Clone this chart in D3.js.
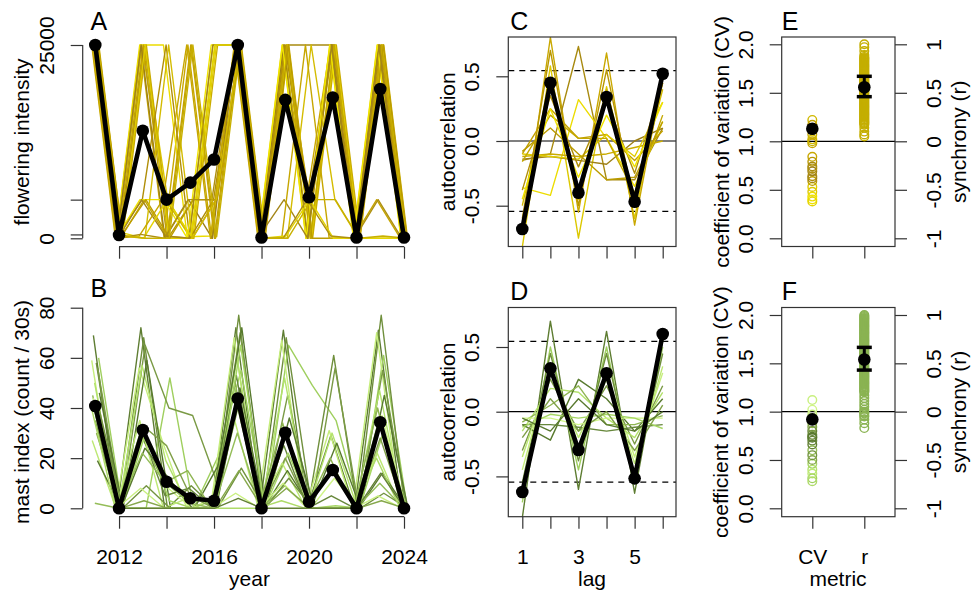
<!DOCTYPE html>
<html><head><meta charset="utf-8">
<script src="https://cdn.jsdelivr.net/npm/d3@7"></script>
<style>body{margin:0;background:#fff}svg{display:block}</style>
</head><body><svg id="c" width="972" height="593"></svg>
<script>
// ---------------- DATA ----------------
const years = [2011,2012,2013,2014,2015,2016,2017,2018,2019,2020,2021,2022,2023,2024];
const V = 25000, M = 5000;
// flowering intensity, one row per year, one column per tree (20 trees)
const flowerByYear = [
 [V,V,V,V,V,V,V,V,V,V,V,V,V,V,V,V,V,V,V,V],
 [0,500,300,0,800,0,500,0,300,0,600,0,0,500,0,300,0,800,0,400],
 [V,V,V,V,V,V,V,V,V,V,M,M,M,M,M,0,300,0,500,0],
 [M,0,300,M,0,V,0,200,0,0,V,0,M,0,300,V,M,M,0,0],
 [0,V,M,300,0,200,V,0,M,0,0,V,0,M,0,0,V,300,M,V],
 [V,0,M,V,M,300,0,V,0,V,M,0,V,M,V,M,0,V,M,200],
 [V,V,V,V,V,V,V,V,V,V,V,V,V,V,V,V,V,V,V,V],
 [0,0,200,0,0,0,300,0,0,0,0,0,0,0,500,0,0,0,0,0],
 [V,V,V,V,V,V,V,V,V,V,V,V,V,V,M,0,0,300,0,0],
 [0,M,0,0,V,0,M,0,0,200,M,0,0,0,0,V,V,M,M,M],
 [V,V,V,V,V,V,V,V,V,V,V,V,V,0,V,M,0,0,300,M],
 [0,0,0,0,0,0,200,0,0,0,0,0,0,0,0,0,0,0,0,0],
 [V,V,V,V,V,V,V,V,V,V,V,V,V,V,V,0,M,0,M,300],
 [0,0,0,0,0,0,0,0,0,0,0,0,0,0,0,0,0,0,0,0]
];
// survey date of each tree within the year (offset, in years)
const flowerDateOffset = [0.05,-0.10,0.12,-0.04,0.08,-0.13,0.02,0.15,-0.07,0.10,-0.02,0.06,-0.12,0.13,-0.05,0.09,-0.15,0.03,-0.09,0.11];
const flowerMean = [25000,430,13900,5000,7200,10200,25000,100,17900,5300,18200,100,19300,100];
const flowerTicks = [0,500,5000,25000];
const flowerTickLabels = ["0","","","25000"];

// mast index, one row per year, one column per site (20 sites)
const mastByYear = [
 [69,60,58,59,56,50,46,45,30,40,38,35,27,19,2,40,44,30,40,42],
 [0,0,0,0,0,0,0,0,0,0,0,0,0,0,0,0,0,0,0,0],
 [72,0,68,56,65,57,59,30,30,30,30,33,35,24,22,9,8,3,0,0],
 [0,52,0,26,40,19,0,10,8,5,3,25,0,12,10,0,0,0,0,0],
 [0,0,9,0,37,0,0,15,0,8,0,5,4,0,2,0,0,0,0,0],
 [0,20,0,0,11,0,17,0,5,0,4,0,3,0,0,0,0,0,0,0],
 [72,55,77,68,70,60,72,50,45,53,65,40,35,48,30,16,6,15,0,4],
 [0,0,0,2,0,0,0,0,0,0,0,0,0,0,0,0,0,0,0,0],
 [71,65,68,67,45,52,36,34,30,25,22,20,18,15,9,12,10,8,3,0],
 [0,49,5,0,0,0,2,0,0,0,0,0,0,0,0,0,0,0,0,0],
 [29,35,61,31,56,30,26,20,12,5,1,0,0,0,0,0,0,0,0,0],
 [0,0,0,0,0,2,0,0,0,0,0,0,0,0,0,0,0,0,0,0],
 [71,61,77,70,55,47,45,40,37,35,30,28,22,14,10,6,5,3,20,14],
 [0,0,0,0,0,0,0,0,0,0,0,0,0,0,0,0,0,0,0,0]
];
const mastDateOffset = [-0.08,0.14,0.04,-0.15,0.10,-0.03,0.17,-0.11,0.07,-0.06,0.12,0.00,-0.13,0.09,-0.02,0.15,-0.09,0.05,-0.16,0.02];
const mastMean = [40.8,0,31.2,10.6,4.0,3.0,43.8,0,30.1,2.6,15.3,0,34.3,0];
const mastTicks = [0,20,40,60,80];
const yearTicks = [2012,2014,2016,2018,2020,2022,2024];
const yearLabels = ["2012","","2016","","2020","","2024"];

const lags = [1,2,3,4,5,6];
const lagLabels = ["1","","3","","5",""];
const acfFlower = [
 [-0.82,0.58,-0.75,0.42,-0.60,0.55],
 [-0.70,0.80,-0.55,0.68,-0.65,0.50],
 [-0.60,0.70,-0.50,0.55,-0.50,0.45],
 [-0.50,0.47,-0.45,0.40,-0.45,0.40],
 [-0.15,-0.10,0.73,-0.30,-0.30,0.10],
 [-0.36,-0.42,0.32,0.02,-0.35,0.15],
 [-0.10,0.25,0.02,0.05,-0.15,0.08],
 [-0.12,-0.10,-0.12,-0.10,-0.05,0.00],
 [-0.14,-0.12,-0.15,-0.18,0.00,0.10],
 [-0.10,-0.12,-0.14,0.05,-0.12,0.30],
 [-0.38,0.35,-0.20,0.30,-0.25,0.45],
 [-0.16,0.20,0.02,0.02,-0.40,0.20],
 [-0.45,0.25,-0.28,0.20,-0.20,0.30],
 [-0.08,0.10,-0.10,-0.30,-0.28,0.15]
];
const acfFlowerMean = [-0.68,0.45,-0.40,0.34,-0.47,0.52];
const acfMast = [
 [-0.82,0.70,-0.60,0.62,-0.63,0.55],
 [-0.70,0.50,-0.45,0.50,-0.55,0.50],
 [-0.55,0.45,-0.38,0.45,-0.50,0.45],
 [-0.45,0.35,-0.30,0.30,-0.35,0.30],
 [-0.30,0.25,-0.15,0.20,-0.25,0.20],
 [-0.15,0.18,0.15,-0.05,-0.20,0.15],
 [-0.10,-0.22,0.25,0.10,-0.15,0.10],
 [-0.08,0.05,0.20,-0.10,-0.10,-0.03],
 [-0.05,-0.05,-0.10,-0.05,-0.05,-0.05],
 [-0.10,-0.10,-0.12,-0.15,-0.12,-0.10],
 [-0.12,-0.02,-0.05,-0.02,-0.05,-0.13],
 [-0.20,0.10,-0.15,0.00,-0.30,0.05],
 [-0.35,0.30,-0.20,0.25,-0.40,0.35],
 [-0.05,-0.15,0.10,-0.10,-0.15,0.00]
];
const acfMastMean = [-0.62,0.335,-0.296,0.297,-0.515,0.60];
const acfTicks = [-0.5,0,0.5];
const acfTickLabels = ["-0.5","0.0","0.5"];
const acfCrit = 0.5436;

const metricCats = ["CV","r"];
const cvTicks = [0,0.5,1,1.5,2];
const cvTickLabels = ["0.0","0.5","1.0","1.5","2.0"];
const rTicks = [-1,-0.5,0,0.5,1];
const rTickLabels = ["-1","-0.5","0","0.5","1"];
const cvFlower = [0.48,0.84,0.79,1.22,0.74,0.43,1.17,1.12,0.69,0.53,0.64,1.07,0.40,0.59,0.62,1.02,0.98,0.38,0.72,1.00];
const cvFlowerMean = 1.13;
const rFlower = [1.00,0.97,0.93,0.89,0.87,0.86,0.85,0.84,0.83,0.82,0.81,0.80,0.79,0.78,0.77,0.76,0.75,0.74,0.73,0.72,0.71,0.70,0.69,0.68,0.67,0.66,0.65,0.64,0.63,0.62,0.61,0.60,0.59,0.58,0.57,0.56,0.55,0.54,0.53,0.52,0.51,0.50,0.49,0.48,0.47,0.46,0.45,0.44,0.43,0.42,0.41,0.40,0.39,0.38,0.37,0.36,0.35,0.34,0.33,0.32,0.31,0.30,0.29,0.28,0.27,0.26,0.25,0.24,0.23,0.22,0.21,0.20,0.19,0.18,0.17,0.14,0.10,0.07,0.05];
const rFlowerMean = 0.557, rFlowerLo = 0.46, rFlowerHi = 0.67;
const cvMast = [0.80,0.31,0.76,0.97,0.92,0.40,0.73,0.88,1.02,0.70,0.46,0.84,0.36,0.74,0.60,0.55,1.12,0.50,0.28,0.66];
const cvMastMean = 0.92;
const rMast = [1.00,0.99,0.98,0.97,0.96,0.95,0.94,0.93,0.92,0.91,0.90,0.89,0.88,0.87,0.86,0.85,0.84,0.83,0.82,0.81,0.80,0.79,0.78,0.77,0.76,0.75,0.74,0.73,0.72,0.71,0.70,0.69,0.68,0.67,0.66,0.65,0.64,0.63,0.62,0.61,0.60,0.59,0.58,0.57,0.56,0.55,0.54,0.53,0.52,0.51,0.50,0.49,0.48,0.47,0.46,0.45,0.44,0.43,0.42,0.41,0.40,0.39,0.38,0.37,0.36,0.35,0.34,0.33,0.32,0.31,0.30,0.29,0.28,0.27,0.26,0.25,0.24,0.23,0.22,0.21,0.20,0.17,0.14,0.11,0.08,0.05,0.02,0.00,-0.01,-0.02,-0.04,-0.05,-0.08,-0.12,-0.17];
const rMastMean = 0.54, rMastLo = 0.43, rMastHi = 0.665;

// ---------------- STYLE ----------------
const flowerPalette = ["#dcc800","#c9a800","#b89600","#d0b800","#a88a10","#ecdc00","#c2a000","#caac00","#9e8018","#e0cc00","#b08e08","#c4a800","#f0e400","#bb9c00","#a4861a","#d4bc00","#c6a600","#e4d400","#ae9010","#c8b000"];
const mastPalette = ["#5e7d32","#9fcf5e","#6f8f3c","#c6ee7c","#7a9a45","#b3e26c","#587a2e","#8fb552","#d0f588","#66873a","#a6d664","#80a048","#bde874","#5a7a30","#94bd58","#72933f","#c9f080","#86a84c","#aedb68","#627f35"];
const rFlowerColor = "#c4ae00", rMastColor = "#8ab352";
const FONT = '"Liberation Sans", Arial, Helvetica, sans-serif';
const FS = 21, AX = "#333";

const svg = d3.select("#c");
const defs = svg.append("defs");

// layout
const rowTop = [37, 246.5], rowBot = [307.5, 516.7];
const colA = [83, 416], colC = [508.3, 676], colE = [781.7, 895];

// scales
const xYear = d3.scaleLinear().domain([2011,2024]).range([95.3,404]);
const yFlower = d3.scaleLinear().domain([0,25000]).range([238.3,45]);
const yMast = d3.scaleLinear().domain([0,80]).range([508.3,307.7]);
const xLag = d3.scaleLinear().domain([1,6]).range([522.3,662.7]);
const yAcfC = d3.scaleLinear().domain([-0.5,0.5]).range([205.7,76.3]);
const yAcfD = d3.scaleLinear().domain([-0.5,0.5]).range([476.4,347.0]);
const xMetric = d3.scaleLinear().domain([1,2]).range([812.3,864.3]);
const yCvE = d3.scaleLinear().domain([0,2]).range([238.3,44.3]);
const yRE = d3.scaleLinear().domain([-1,1]).range([238.3,44.3]);
const yCvF = d3.scaleLinear().domain([0,2]).range([508.3,315.0]);
const yRF = d3.scaleLinear().domain([-1,1]).range([508.3,315.0]);

function txt(x,y,s,opt={}){
  const t = svg.append("text").attr("x",x).attr("y",y).text(s)
    .attr("font-family",FONT).attr("font-size",opt.size||FS).attr("fill","#000")
    .attr("text-anchor",opt.anchor||"middle");
  if(opt.rot) t.attr("transform",`rotate(-90,${x},${y})`);
  return t;
}

function axis(side, scale, values, labels, pos, line){
  const gen = (side==="left"?d3.axisLeft:side==="right"?d3.axisRight:d3.axisBottom)(scale)
    .tickValues(values).tickSizeInner(12).tickSizeOuter(0)
    .tickFormat((d,i)=>labels ? labels[i] : "");
  const g = svg.append("g")
    .attr("transform", side==="bottom" ? `translate(0,${pos})` : `translate(${pos},0)`)
    .call(gen);
  g.attr("font-size",null).attr("font-family",null);
  g.select(".domain").remove();
  g.selectAll(".tick line").attr("stroke",AX).attr("stroke-width",1.2);
  const t = g.selectAll(".tick text").attr("fill","#000")
    .attr("font-family",FONT).attr("font-size",FS).attr("dy",null);
  if(side==="left") t.attr("x",null).attr("text-anchor","middle").attr("transform","translate(-29,0) rotate(-90)");
  if(side==="right") t.attr("x",null).attr("text-anchor","middle").attr("transform","translate(46,0) rotate(-90)");
  if(side==="bottom") t.attr("y",47.3);
  if(line){
    const a = scale(values[0]), b = scale(values[values.length-1]);
    if(side==="bottom") g.append("line").attr("x1",a).attr("x2",b).attr("y1",0).attr("y2",0).attr("stroke",AX).attr("stroke-width",1.2);
    else g.append("line").attr("y1",a).attr("y2",b).attr("x1",0).attr("x2",0).attr("stroke",AX).attr("stroke-width",1.2);
  }
}

function box(col,row){
  svg.append("rect").attr("x",col[0]).attr("y",row[0]).attr("width",col[1]-col[0]).attr("height",row[1]-row[0])
    .attr("fill","none").attr("stroke",AX).attr("stroke-width",1.2);
}
function clip(id,col,row){
  defs.append("clipPath").attr("id",id).append("rect")
    .attr("x",col[0]).attr("y",row[0]).attr("width",col[1]-col[0]).attr("height",row[1]-row[0]);
  return svg.append("g").attr("clip-path",`url(#${id})`);
}

function seriesPanel(g, xsFor, xs, xScale, yScale, seriesList, palette, mean){
  seriesList.forEach((s,i)=>{
    const xv = xsFor(i);
    const line = d3.line().x((d,k)=>xScale(xv[k])).y(d=>yScale(d));
    g.append("path").attr("d",line(s)).attr("fill","none")
      .attr("stroke",palette[i%palette.length]).attr("stroke-width",1.4).attr("stroke-linejoin","round");
  });
  const mline = d3.line().x((d,k)=>xScale(xs[k])).y(d=>yScale(d));
  g.append("path").attr("d",mline(mean)).attr("fill","none").attr("stroke","#000")
    .attr("stroke-width",4.6).attr("stroke-linejoin","round");
  g.selectAll(null).data(mean).enter().append("circle")
    .attr("cx",(d,k)=>xScale(xs[k])).attr("cy",d=>yScale(d)).attr("r",6.3).attr("fill","#000");
}

// ---------- Panel A ----------
const flowerSeries = d3.range(20).map(j=>flowerByYear.map(r=>r[j]));
seriesPanel(svg.append("g"), i=>years.map(y=>y+flowerDateOffset[i]), years, xYear, yFlower, flowerSeries, flowerPalette, flowerMean);
axis("left", yFlower, flowerTicks, flowerTickLabels, 82.7, true);
axis("bottom", xYear, yearTicks, null, 246.7, true);
txt(29,142,"flowering intensity",{rot:true});
txt(90.5,30,"A",{anchor:"start",size:25});

// ---------- Panel B ----------
const mastSeries = d3.range(20).map(j=>mastByYear.map(r=>r[j]));
seriesPanel(svg.append("g"), i=>years.map(y=>y+mastDateOffset[i]), years, xYear, yMast, mastSeries, mastPalette, mastMean);
axis("left", yMast, mastTicks, mastTicks.map(String), 82.7, true);
axis("bottom", xYear, yearTicks, yearLabels, 516.7, true);
txt(29,412,"mast index (count / 30s)",{rot:true});
txt(249.5,586,"year");
txt(90.5,296.7,"B",{anchor:"start",size:25});

// ---------- Panels C / D ----------
function acfPanel(id,row,yScale,data,palette,mean,labels,label){
  const g = clip(id,colC,row);
  g.append("line").attr("x1",colC[0]).attr("x2",colC[1]).attr("y1",yScale(0)).attr("y2",yScale(0)).attr("stroke","#000").attr("stroke-width",1.2);
  [acfCrit,-acfCrit].forEach(c=>g.append("line").attr("x1",colC[0]).attr("x2",colC[1])
     .attr("y1",yScale(c)).attr("y2",yScale(c)).attr("stroke","#000").attr("stroke-width",1.2).attr("stroke-dasharray","6,5"));
  seriesPanel(g, i=>lags, lags, xLag, yScale, data, palette, mean);
  box(colC,row);
  axis("left", yScale, acfTicks, acfTickLabels, colC[0], false);
  axis("bottom", xLag, lags, labels, row[1], false);
  txt(455,(row[0]+row[1])/2,"autocorrelation",{rot:true});
  txt(510.3,row[0]-7.2,label,{anchor:"start",size:25});
}
acfPanel("clipC",rowTop,yAcfC,acfFlower,flowerPalette,acfFlowerMean,null,"C");
acfPanel("clipD",rowBot,yAcfD,acfMast,mastPalette,acfMastMean,lagLabels,"D");
txt(592,586,"lag");

// ---------- Panels E / F ----------
function metricPanel(row,yCv,yR,cv,palette,cvMean,rv,rColor,rMean,rLo,rHi,labels,label){
  svg.append("line").attr("x1",colE[0]).attr("x2",colE[1]).attr("y1",yCv(1)).attr("y2",yCv(1)).attr("stroke","#000").attr("stroke-width",1.2);
  const g = svg.append("g");
  g.selectAll(null).data(rv).enter().append("circle")
    .attr("cx",xMetric(2)).attr("cy",d=>yR(d)).attr("r",4.3).attr("fill","none")
    .attr("stroke",rColor).attr("stroke-width",1.4);
  g.selectAll(null).data(cv).enter().append("circle")
    .attr("cx",xMetric(1)).attr("cy",d=>yCv(d)).attr("r",4.3).attr("fill","none")
    .attr("stroke",(d,i)=>palette[i]).attr("stroke-width",1.4);
  const xr = xMetric(2);
  g.append("line").attr("x1",xr).attr("x2",xr).attr("y1",yR(rLo)).attr("y2",yR(rHi)).attr("stroke","#000").attr("stroke-width",3);
  [rLo,rHi].forEach(v=>g.append("line").attr("x1",xr-7.5).attr("x2",xr+7.5).attr("y1",yR(v)).attr("y2",yR(v)).attr("stroke","#000").attr("stroke-width",3.5));
  g.append("circle").attr("cx",xMetric(1)).attr("cy",yCv(cvMean)).attr("r",6.3).attr("fill","#000");
  g.append("circle").attr("cx",xr).attr("cy",yR(rMean)).attr("r",6.3).attr("fill","#000");
  box(colE,row);
  axis("left", yCv, cvTicks, cvTickLabels, colE[0], false);
  axis("right", yR, rTicks, rTickLabels, colE[1], false);
  axis("bottom", xMetric, [1,2], labels, row[1], false);
  txt(728.5,(row[0]+row[1])/2,"coefficient of variation (CV)",{rot:true});
  txt(966,(row[0]+row[1])/2,"synchrony (r)",{rot:true});
  txt(781.7,row[0]-7.2,label,{anchor:"start",size:25});
}
metricPanel(rowTop,yCvE,yRE,cvFlower,flowerPalette,cvFlowerMean,rFlower,rFlowerColor,rFlowerMean,rFlowerLo,rFlowerHi,null,"E");
metricPanel(rowBot,yCvF,yRF,cvMast,mastPalette,cvMastMean,rMast,rMastColor,rMastMean,rMastLo,rMastHi,metricCats,"F");
txt(838,586,"metric");
</script></body></html>
